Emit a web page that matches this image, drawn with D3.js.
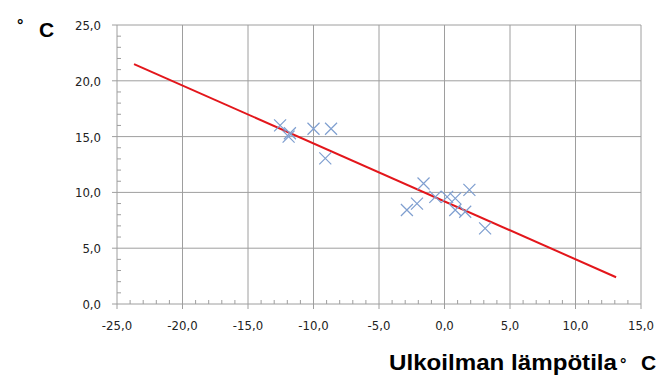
<!DOCTYPE html>
<html>
<head>
<meta charset="utf-8">
<script src="https://cdn.jsdelivr.net/npm/d3@7"></script>
<style>
  body { margin: 0; background: #fff; }
  svg { display: block; }
</style>
</head>
<body>
<div id="chart"></div>
<script>
// measured points (outdoor temp, value)
var pointX = [-12.55, -11.9, -11.8, -10.0, -8.66, -9.1,
    -2.87, -2.1, -1.6, -0.7, 0.2, 0.82, 0.82, 1.58, 1.9, 3.1];
var pointY = [16.0, 15.0, 15.3, 15.7, 15.7, 13.05,
    8.42, 9.0, 10.8, 9.6, 9.6, 9.47, 8.42, 8.27, 10.22, 6.78];

// trend line end points
var lineX = [-23.7, 13.1];
var lineY = [21.5, 2.4];

var xTicks = [-25, -20, -15, -10, -5, 0, 5, 10, 15];
var yTicks = [0, 5, 10, 15, 20, 25];

var width = 665,
    height = 375;

var margin = {left: 117, right: 24, top: 25, bottom: 71};

var svg = d3.select('#chart')
    .append('svg')
        .attr('width', width)
        .attr('height', height);

var x = d3.scaleLinear()
    .domain([-25, 15])
    .range([margin.left, width - margin.right]);
var y = d3.scaleLinear()
    .domain([0, 25])
    .range([height - margin.bottom, margin.top]);

var gridColor = '#9e9e9e';
// comma decimals, plain hyphen minus
var fmt = function(d) { return d.toFixed(1).replace('.', ','); };

// grid
var grid = svg.append('g').attr('class', 'grid');
grid.selectAll('.gx')
    .data(xTicks)
    .enter().append('line')
        .attr('x1', function(d) { return x(d); })
        .attr('x2', function(d) { return x(d); })
        .attr('y1', y(25))
        .attr('y2', y(0) + 5)
        .attr('stroke', gridColor)
        .attr('stroke-width', 1);
grid.selectAll('.gy')
    .data(yTicks)
    .enter().append('line')
        .attr('y1', function(d) { return y(d); })
        .attr('y2', function(d) { return y(d); })
        .attr('x1', x(-25) - 5)
        .attr('x2', x(15))
        .attr('stroke', gridColor)
        .attr('stroke-width', 1);

// minor ticks, every 1 unit
grid.selectAll('.mx')
    .data(d3.range(-25, 15.01, 1).filter(function(d) { return d % 5 != 0; }))
    .enter().append('line')
        .attr('x1', function(d) { return x(d); })
        .attr('x2', function(d) { return x(d); })
        .attr('y1', y(0))
        .attr('y2', y(0) - 4)
        .attr('stroke', gridColor);
grid.selectAll('.my')
    .data(d3.range(0, 25.01, 1).filter(function(d) { return d % 5 != 0; }))
    .enter().append('line')
        .attr('y1', function(d) { return y(d); })
        .attr('y2', function(d) { return y(d); })
        .attr('x1', x(-25))
        .attr('x2', x(-25) + 4)
        .attr('stroke', gridColor);

// tick labels
var labelFont = '"DejaVu Sans Condensed", "DejaVu Sans", sans-serif';
svg.append('g').selectAll('text')
    .data(xTicks)
    .enter().append('text')
        .attr('x', function(d) { return x(d); })
        .attr('y', y(0) + 26)
        .attr('text-anchor', 'middle')
        .style('font-family', labelFont)
        .style('font-size', '13px')
        .attr('fill', '#222')
        .text(fmt);
svg.append('g').selectAll('text')
    .data(yTicks)
    .enter().append('text')
        .attr('x', x(-25) - 16)
        .attr('y', function(d) { return y(d) + 5; })
        .attr('text-anchor', 'end')
        .style('font-family', labelFont)
        .style('font-size', '13px')
        .attr('fill', '#222')
        .text(fmt);

// trend line
svg.append('path')
    .datum(d3.zip(lineX, lineY))
    .attr('fill', 'none')
    .attr('stroke', '#e3161b')
    .attr('stroke-width', 2)
    .attr('d', d3.line()
        .x(function(d) { return x(d[0]); })
        .y(function(d) { return y(d[1]); }));

// cross markers
var s = 6;
svg.append('g').selectAll('path')
    .data(d3.zip(pointX, pointY))
    .enter().append('path')
        .attr('transform', function(d) {
          return 'translate(' + x(d[0]) + ',' + y(d[1]) + ')';
        })
        .attr('d', 'M' + (-s) + ',' + (-s) + 'L' + s + ',' + s
            + 'M' + (-s) + ',' + s + 'L' + s + ',' + (-s))
        .attr('fill', 'none')
        .attr('stroke', '#7f9fd0')
        .attr('stroke-width', 1.2);

// axis titles
var titleFont = '"Liberation Sans", Arial, sans-serif';
function title(tx, ty, str, size) {
  return svg.append('text')
      .attr('x', tx)
      .attr('y', ty)
      .style('font-family', titleFont)
      .style('font-size', size + 'px')
      .style('font-weight', 'bold')
      .text(str);
}
title(17, 31, '°', 16);
title(39, 37, 'C', 21);
title(389, 370, 'Ulkoilman lämpötila', 22)
    .attr('textLength', 228)
    .attr('lengthAdjust', 'spacingAndGlyphs');
title(620, 370, '°', 16);
title(641, 370, 'C', 21);
</script>
</body>
</html>
